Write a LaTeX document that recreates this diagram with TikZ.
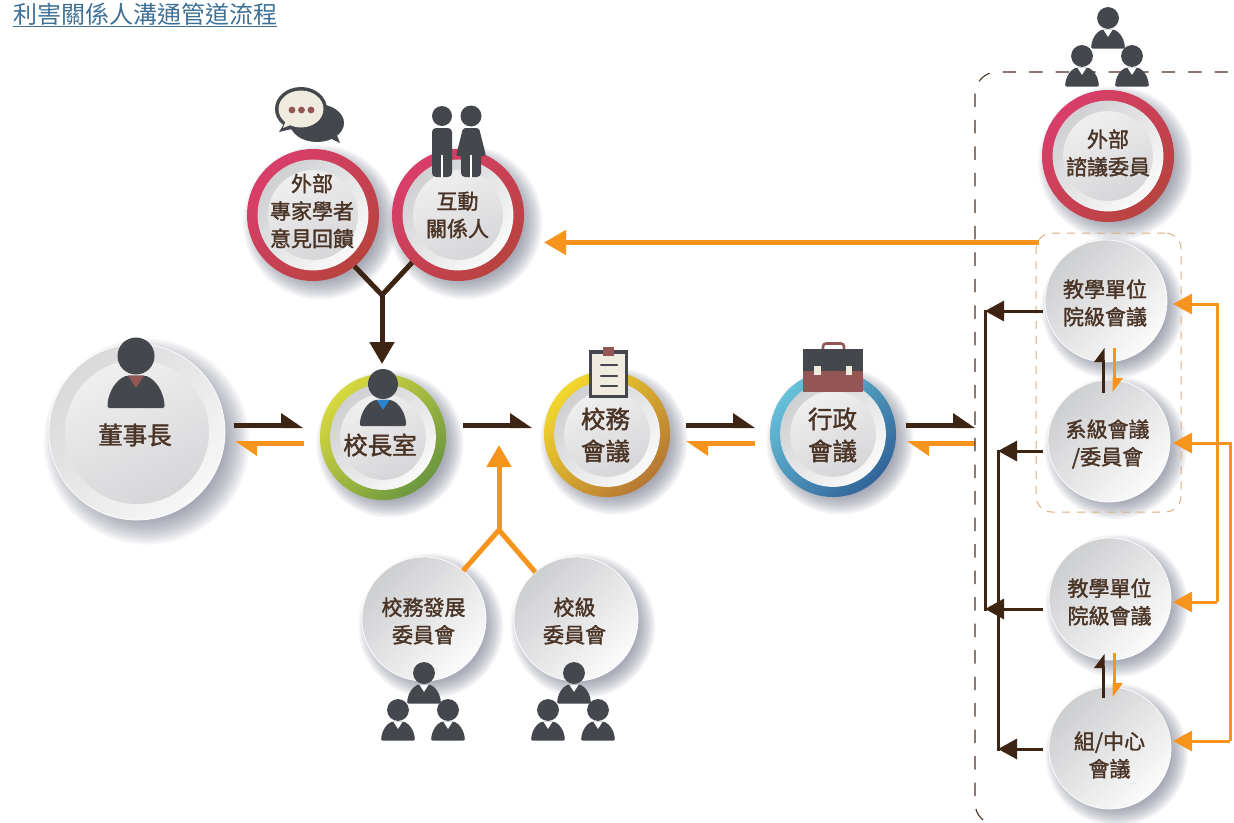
\documentclass[tikz,border=0pt]{standalone}
\usepackage{fontspec}
\usetikzlibrary{arrows.meta,backgrounds}
\newfontfamily\zh[FakeBold=1.6]{Noto Sans CJK TC}
\newfontfamily\zhtitle{Noto Sans CJK TC}
\definecolor{brn}{HTML}{3E2413}
\definecolor{org}{HTML}{F7941E}
\definecolor{txt}{HTML}{4A3426}
\definecolor{tan}{HTML}{D8AE80}
\definecolor{ico}{HTML}{44474C}
\definecolor{mar}{HTML}{935655}
\definecolor{crm}{HTML}{EFEBDF}
\definecolor{ttl}{HTML}{3F7096}
\definecolor{shd}{HTML}{5F6478}
\pgfdeclarearrow{name=HalfBig,
  setup code={\pgfarrowssettipend{0pt}\pgfarrowssetlineend{-18pt}\pgfarrowssetbackend{-22pt}\pgfarrowssetvisualbackend{-22pt}\pgfarrowshullpoint{0pt}{-2.5pt}\pgfarrowshullpoint{-22pt}{12pt}\pgfarrowshullpoint{-22pt}{-2.5pt}},
  drawing code={\pgfpathmoveto{\pgfqpoint{0pt}{-2.5pt}}\pgfpathlineto{\pgfqpoint{-22pt}{12.5pt}}\pgfpathlineto{\pgfqpoint{-22pt}{-2.5pt}}\pgfpathclose\pgfusepathqfill}}
\pgfdeclarearrow{name=HalfSmall,
  setup code={\pgfarrowssettipend{0pt}\pgfarrowssetlineend{-12pt}\pgfarrowssetbackend{-14pt}\pgfarrowssetvisualbackend{-14pt}\pgfarrowshullpoint{0pt}{-1.5pt}\pgfarrowshullpoint{-14pt}{9pt}\pgfarrowshullpoint{-14pt}{-1.5pt}},
  drawing code={\pgfpathmoveto{\pgfqpoint{0pt}{-1.5pt}}\pgfpathlineto{\pgfqpoint{-14pt}{9pt}}\pgfpathlineto{\pgfqpoint{-14pt}{-1.5pt}}\pgfpathclose\pgfusepathqfill}}
\tikzset{
  every node/.style={inner sep=0pt,outer sep=0pt},
  discnode/.style={circle,minimum size=#1,shading=axis},
  lab/.style={font=\zh\fontsize{21}{27.5}\selectfont,text=txt,align=center},
  labbig/.style={font=\zh\fontsize{24.5}{32}\selectfont,text=txt,align=center},
  brnbig/.style={color=brn,line width=5pt},
  orgbig/.style={color=org,line width=5pt},
  brnthin/.style={color=brn,line width=3pt},
  orgthin/.style={color=org,line width=3pt},
  fullbig/.style={-{Triangle[length=22pt,width=24pt]}},
  fullsmall/.style={-{Triangle[length=19pt,width=20pt]}},
  halfbig/.style={-{HalfBig}},
  halfsmall/.style={-{HalfSmall}},
  bus/.style={line cap=rect},
}
% soft drop shadow: stacked translucent circles on the background layer
\newcommand\softshadow[3]{%
  \begin{pgfonlayer}{background}
  \pgfmathsetmacro\sx{#1+0.11*#3}\pgfmathsetmacro\sy{#2+0.11*#3}
  \foreach \k in {0,...,13}{%
    \pgfmathsetmacro\sr{(1.17-0.022*\k)*#3}
    \fill[shd,opacity=.055] (\sx,\sy) circle (\sr);}
  \end{pgfonlayer}}
\definecolor{cfd0d2}{HTML}{CFD0D2}\definecolor{fafafa}{HTML}{FAFAFA}\definecolor{efefef}{HTML}{EFEFEF}\definecolor{d6d6d9}{HTML}{D6D6D9}
\definecolor{cdced0}{HTML}{CDCED0}\definecolor{fbfbfb}{HTML}{FBFBFB}
\definecolor{chA}{HTML}{D9D9DB}\definecolor{chB}{HTML}{F7F7F7}
\definecolor{redA}{HTML}{D93E6B}\definecolor{redB}{HTML}{B8433F}
\definecolor{grnA}{HTML}{D6D83E}\definecolor{grnB}{HTML}{6B9740}
\definecolor{yelA}{HTML}{F2D72C}\definecolor{yelB}{HTML}{B67733}
\definecolor{bluA}{HTML}{66C1DA}\definecolor{bluB}{HTML}{316498}
\newcommand\ringdisc[6]{% name x y r ringUL ringLR
  \softshadow{#2}{#3}{#4}
  \pgfmathsetmacro\dd{2*#4}
  \node[discnode=\dd pt,top color=#5,bottom color=#6,shading angle=45] (#1) at (#2,#3) {};
  \pgfmathsetmacro\rm{0.84*#4}\pgfmathsetmacro\rc{0.68*#4}
  \shade[top color=cfd0d2,bottom color=fafafa,shading angle=45] (#1.center) circle (\rm);
  \shade[top color=efefef,bottom color=d6d6d9,shading angle=25] (#1.center) circle (\rc);}
\newcommand\plaindisc[6]{% name x y r colourA colourB
  \softshadow{#2}{#3}{#4}
  \pgfmathsetmacro\dd{2*#4}
  \node[discnode=\dd pt,top color=#5,bottom color=#6,shading angle=45,draw=white,line width=.7pt] (#1) at (#2,#3) {};}
\newcommand\person[4]{% x y scale tiecolor
  \begin{scope}[shift={(#1,#2)},x=#3pt,y=-#3pt]
    \fill[ico,rounded corners=2pt] (-28.5,52) -- (-28.5,47) .. controls (-26,34) and (-20,24) .. (-9,19.5) -- (9,19.5) .. controls (20,24) and (26,34) .. (28.5,47) -- (28.5,52) -- cycle;
    \fill[#4] (-8,19.5) -- (8,19.5) -- (0,32) -- cycle;
    \fill[ico] (0,0) circle (18.5);
  \end{scope}}
\newcommand\trio[6]{\person{#1}{#2}{.59}{white}\person{#3}{#4}{.59}{white}\person{#5}{#6}{.59}{white}}
\begin{document}
\begin{tikzpicture}[x=1pt,y=-1pt]
\useasboundingbox (0,0) rectangle (1234,822);
% title
\node[anchor=west,font=\zhtitle\fontsize{24}{28}\selectfont,text=ttl] (title) at (13,15) {\underline{利害關係人溝通管道流程}};
% tan group box
\node[draw=tan,line width=1pt,dash pattern=on 8pt off 7pt,rounded corners=16pt,minimum width=145pt,minimum height=279pt] (dept) at (1108.5,372.5) {};
% discs
\plaindisc{chair}{137}{432}{88}{chA}{chB}
\shade[top color=efefef,bottom color=d6d6d9,shading angle=25] (chair.center) circle (72);
\ringdisc{pres}{383}{437}{63}{grnA}{grnB}
\ringdisc{acad}{607}{434}{63}{yelA}{yelB}
\ringdisc{admin}{833}{434}{63}{bluA}{bluB}
\ringdisc{expert}{313}{215}{66}{redA}{redB}
\ringdisc{stake}{458}{215}{66}{redA}{redB}
\ringdisc{advis}{1108}{156}{66}{redA}{redB}
\plaindisc{dev}{424}{619}{62}{cdced0}{fbfbfb}
\plaindisc{cmte}{576}{619}{62}{cdced0}{fbfbfb}
\plaindisc{teachA}{1106}{301}{61}{cdced0}{fbfbfb}
\plaindisc{dept2}{1109}{441}{61}{cdced0}{fbfbfb}
\plaindisc{teachB}{1110}{599}{61}{cdced0}{fbfbfb}
\plaindisc{centre}{1110}{748}{61}{cdced0}{fbfbfb}
% labels
\node[labbig] (chair-t) at (135,435) {董事長};
\node[labbig] (pres-t) at (380,445) {校長室};
\node[labbig] (acad-t) at (605.5,435) {校務\\會議};
\node[labbig] (admin-t) at (832.5,435) {行政\\會議};
\node[lab] (expert-t) at (312,211) {外部\\專家學者\\意見回饋};
\node[lab] (stake-t) at (457.5,215) {互動\\關係人};
\node[lab] (advis-t) at (1108,153) {外部\\諮議委員};
\node[lab] (dev-t) at (423.5,621) {校務發展\\委員會};
\node[lab] (cmte-t) at (574.5,621) {校級\\委員會};
\node[lab] (teachA-t) at (1105,303) {教學單位\\院級會議};
\node[lab] (dept2-t) at (1107.5,444) {系級會議\\/委員會};
\node[lab] (teachB-t) at (1109.5,602) {教學單位\\院級會議};
\node[lab] (centre-t) at (1109.5,755) {組/中心\\會議};
% named connector ends
\coordinate (yb) at (382,295);
\coordinate (yo) at (499,530);
\coordinate (pres-top) at (382,364);
\coordinate (gap-in) at (499,445);
\coordinate (c1a) at (234,425.5); \coordinate (c1b) at (303,425.5);
\coordinate (c1c) at (304,443.5); \coordinate (c1d) at (235,443.5);
\coordinate (c2a) at (463,425.5); \coordinate (c2b) at (532,425.5);
\coordinate (c3a) at (686,425.5); \coordinate (c3b) at (755,425.5);
\coordinate (c3c) at (755,443.5); \coordinate (c3d) at (686,443.5);
\coordinate (c4a) at (906,425.5); \coordinate (c4b) at (975,425.5);
\coordinate (c4c) at (975,443.5); \coordinate (c4d) at (907,443.5);
\coordinate (long-a) at (1039,242.5); \coordinate (long-b) at (544,242.5);
\coordinate (o1) at (1043,311); \coordinate (b1) at (985,311);
\coordinate (o2) at (1043,451); \coordinate (b2) at (998,451);
\coordinate (o3) at (1043,609); \coordinate (b3) at (985,609);
\coordinate (o4) at (1043,749); \coordinate (b4) at (998,749);
\coordinate (r1) at (1217,304); \coordinate (i1) at (1173,304);
\coordinate (r2) at (1230,443); \coordinate (i2) at (1173,443);
\coordinate (r3) at (1217,602); \coordinate (i3) at (1173,602);
\coordinate (r4) at (1230,741); \coordinate (i4) at (1173,741);
\coordinate (ua) at (1103,393); \coordinate (ub) at (1103,348);
\coordinate (da) at (1114,348); \coordinate (db) at (1114,392);
\coordinate (va) at (1103,698); \coordinate (vb) at (1103,654);
\coordinate (wa) at (1114,653); \coordinate (wb) at (1114,697);
% connectors
\draw[brnbig] (expert.-51) -- (yb);
\draw[brnbig] (stake.226) -- (yb);
\draw[brnbig,fullbig] (yb) -- (pres-top);
\draw[orgbig] (dev.51) -- (yo);
\draw[orgbig] (cmte.131) -- (yo);
\draw[orgbig,fullbig] (yo) -- (gap-in);
\draw[brnbig,halfbig] (c1a) -- (c1b);
\draw[orgbig,halfbig] (c1c) -- (c1d);
\draw[brnbig,halfbig] (c2a) -- (c2b);
\draw[brnbig,halfbig] (c3a) -- (c3b);
\draw[orgbig,halfbig] (c3c) -- (c3d);
\draw[brnbig,halfbig] (c4a) -- (c4b);
\draw[orgbig,halfbig] (c4c) -- (c4d);
\draw[orgbig,fullbig] (long-a) -- (long-b);
\draw[brnthin,fullsmall] (o1) -- (b1);
\draw[brnthin,fullsmall] (o2) -- (b2);
\draw[brnthin,fullsmall] (o3) -- (b3);
\draw[brnthin,fullsmall] (o4) -- (b4);
\draw[brnthin,bus] (b1) -- (b3);
\draw[brnthin,bus] (b2) -- (b4);
\draw[orgthin,line join=miter,fullsmall] (r3) -- (r1) -- (i1);
\draw[orgthin,fullsmall] (r3) -- (i3);
\draw[orgthin,line join=miter,fullsmall] (r4) -- (r2) -- (i2);
\draw[orgthin,fullsmall] (r4) -- (i4);
\draw[brnthin,halfsmall] (ua) -- (ub);
\draw[orgthin,halfsmall] (da) -- (db);
\draw[brnthin,halfsmall] (va) -- (vb);
\draw[orgthin,halfsmall] (wa) -- (wb);
% black dashed group outline
\draw[txt,line width=1.1pt,dash pattern=on 13.5pt off 13pt,rounded corners=22pt] (1228,72) -- (975,72) -- (975,825) -- (1000,825);
% icons
\person{136}{356}{1}{mar}
\person{383}{384}{.81}{cyan!60!blue!90!white}
\trio{424}{673}{398}{710}{448}{710}
\trio{574}{673}{548}{710}{598}{710}
\trio{1108}{18}{1082}{56}{1132}{56}
% speech bubbles
\fill[ico] (317,123) ellipse (27 and 19);
\fill[ico] (328,137) -- (340,143) -- (334,128) -- cycle;
\fill[ico] (301,109) ellipse (26 and 22);
\fill[ico] (285,122) -- (279,132) -- (296,128) -- cycle;
\fill[crm] (301,109) ellipse (22.5 and 18.5);
\fill[crm] (286,120) -- (283,128) -- (293,124) -- cycle;
\foreach \dx in {292,301.5,311} \fill[mar] (\dx,110) circle (3.4);
% two people
\fill[ico] (442,116) circle (10);
\fill[ico,rounded corners=4pt] (432,128) rectangle (452,177);
\fill[white] (441,155) rectangle (443,178);
\fill[ico] (471,116) circle (10.5);
\fill[ico,rounded corners=2pt] (463,128) -- (479,128) -- (486,156) -- (456,156) -- cycle;
\fill[ico,rounded corners=4pt] (461,150) rectangle (481,177);
\fill[white] (470.2,155) rectangle (472.2,178);
% clipboard
\draw[ico,fill=crm,line width=3.5pt] (590.5,352) rectangle (626.5,396.5);
\fill[mar] (603,347) rectangle (614,356);
\foreach \ly in {365,376,386} \draw[ico,line width=2.6pt,line cap=round] (601,\ly) -- (617,\ly);
% briefcase
\draw[mar,line width=2.6pt,rounded corners=3pt] (823,349) -- (823,343.5) -- (844,343.5) -- (844,349);
\fill[ico] (803,349) rectangle (863,371);
\fill[mar] (803,371) rectangle (863,392);
\fill[crm] (814,366) rectangle (821,375);
\fill[crm] (846,366) rectangle (852,375);
\end{tikzpicture}
\end{document}
